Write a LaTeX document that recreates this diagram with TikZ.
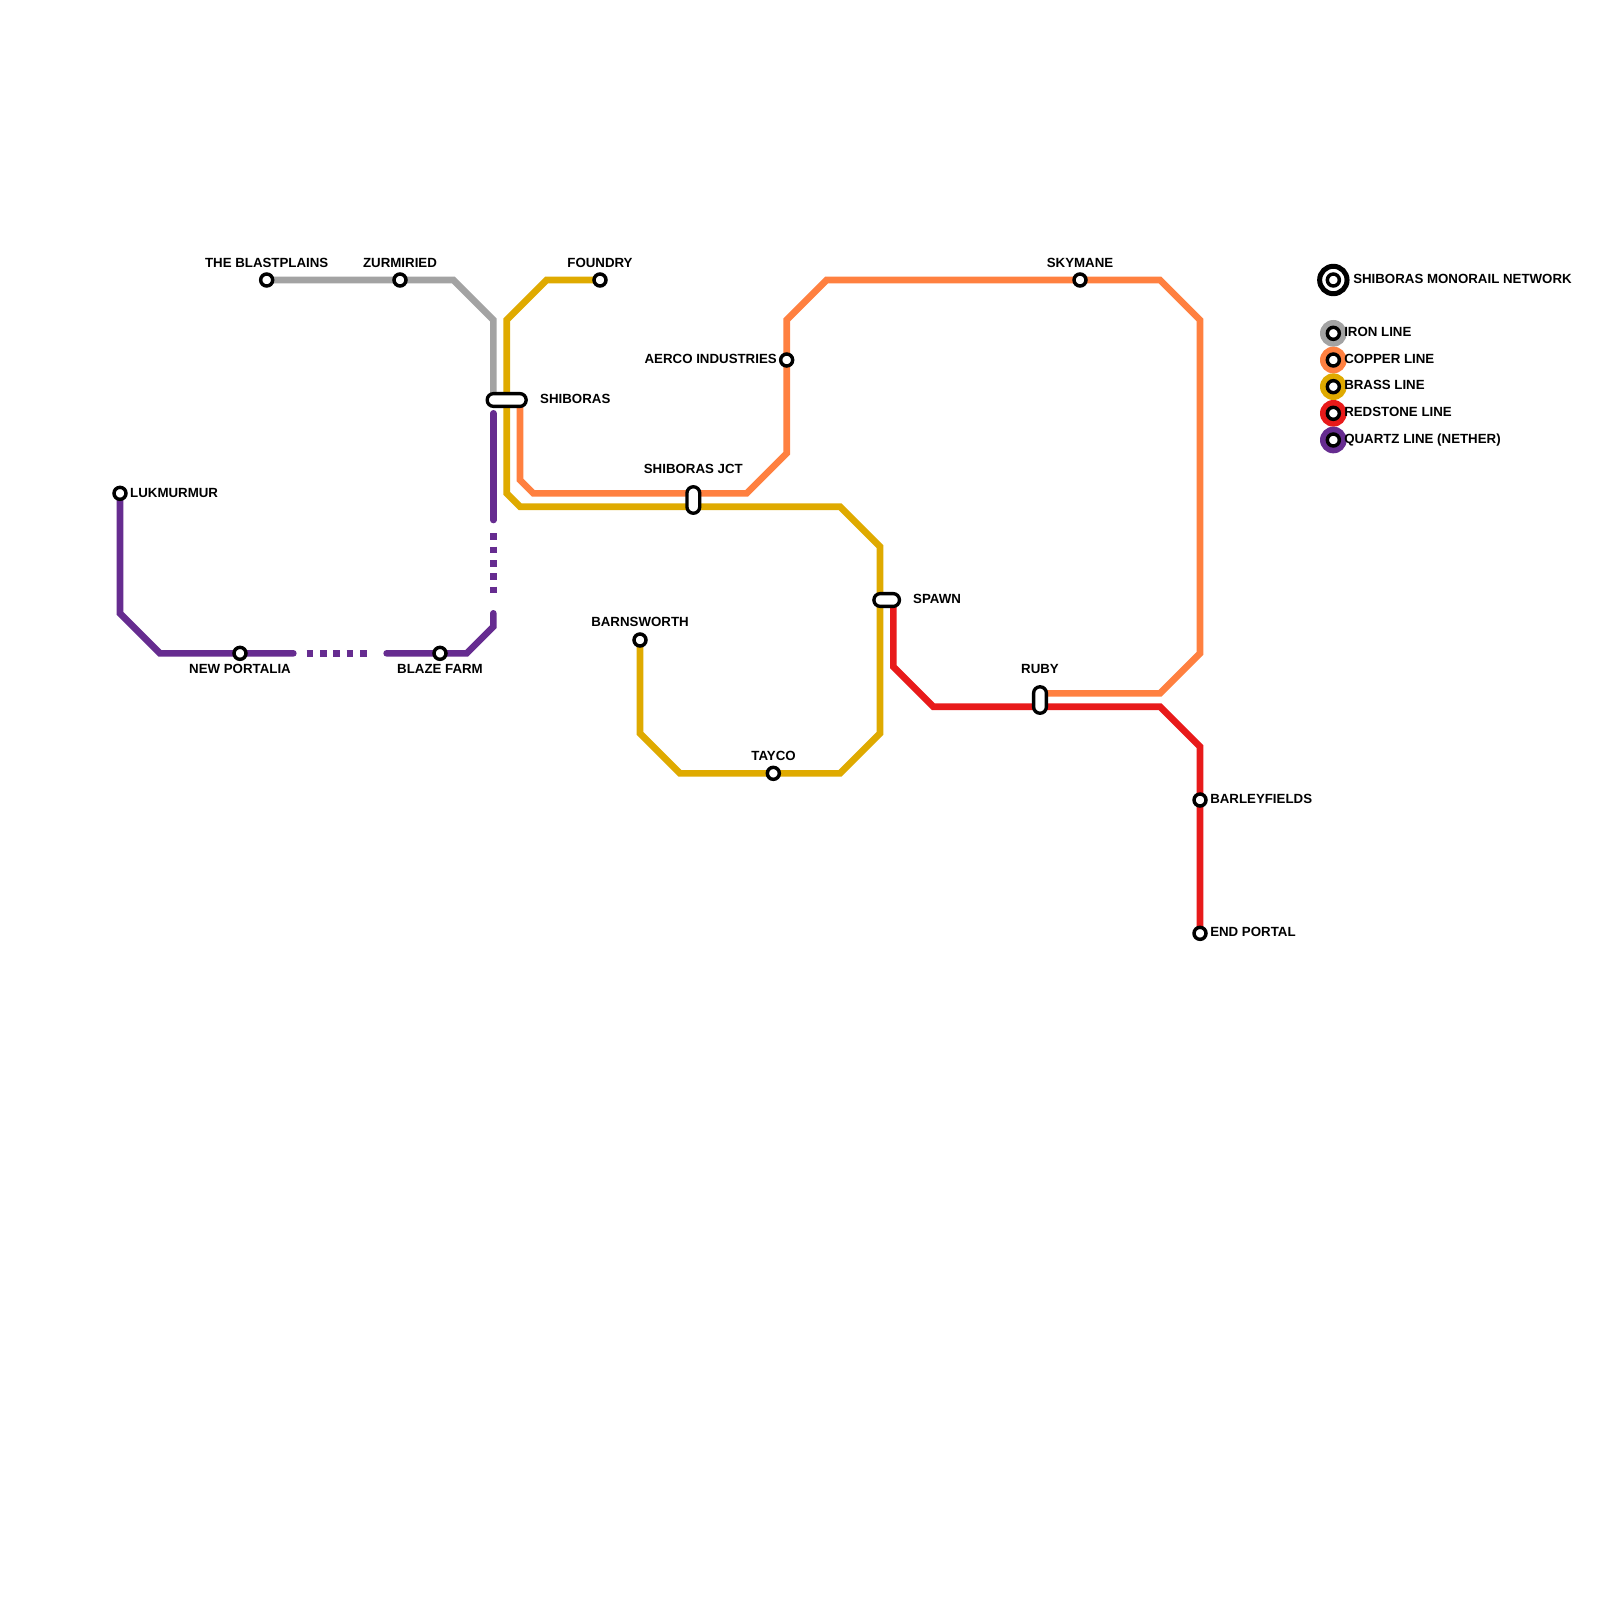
\documentclass[tikz,border=0pt]{standalone}
\usepackage{fontspec}
\setmainfont{Liberation Sans}
\definecolor{ironc}{HTML}{A3A3A3}
\definecolor{copperc}{HTML}{FF8040}
\definecolor{brassc}{HTML}{DFAA00}
\definecolor{redc}{HTML}{E81A1A}
\definecolor{quartzc}{HTML}{662C90}
\tikzset{
  line/.style={line width=5.69pt,line join=miter,line cap=butt},
  rline/.style={line, line cap=round},
  dots/.style={line, dash pattern=on 5.69pt off 5.69pt},
  stn/.style={circle,draw=black,fill=white,line width=2.95pt,minimum size=10.24pt,inner sep=0pt},
  hub/.style={rectangle,draw=black,fill=white,line width=2.85pt,inner sep=0pt,rounded corners=5.4pt},
  lab/.style={font=\fontsize{11.34pt}{13pt}\selectfont\bfseries,inner sep=0pt},
  lc/.style={lab,anchor=base},
  ll/.style={lab,anchor=base west},
  lr/.style={lab,anchor=base east},
  disc/.style={circle,inner sep=0pt,minimum size=22.76pt},
}
\begin{document}
\begin{tikzpicture}[x=0.03cm,y=-0.03cm]
\path[use as bounding box,fill=white] (0,0) rectangle (1600,1600);
% anchors of the stations
\coordinate (blastC) at (266.67,280);
\coordinate (zurC) at (400,280);
\coordinate (foundC) at (600,280);
\coordinate (skyC) at (1080,280);
\coordinate (aercoC) at (786.67,360);
\coordinate (lukC) at (120,493.33);
\coordinate (portC) at (240,653.33);
\coordinate (blazeC) at (440,653.33);
\coordinate (barnC) at (640,640);
\coordinate (taycoC) at (773.33,773.33);
\coordinate (barlC) at (1200,800);
\coordinate (endC) at (1200,933.33);
\coordinate (ironS) at (493.33,400);
\coordinate (brassS) at (506.67,400);
\coordinate (copperS) at (520,400);
\coordinate (redS) at (893.33,600);
\coordinate (copperR) at (1040,693.33);
% lines
\draw[line,ironc] (blastC) -- (zurC) -- (453.33,280) -- (493.33,320) -- (ironS);
\draw[line,brassc] (foundC) -- (546.67,280) -- (506.67,320) -- (brassS) -- (506.67,493.33) -- (520,506.67) -- (840,506.67) -- (880,546.67) -- (880,733.33) -- (840,773.33) -- (taycoC) -- (680,773.33) -- (640,733.33) -- (barnC);
\draw[line,copperc] (copperS) -- (520,480) -- (533.33,493.33) -- (746.67,493.33) -- (786.67,453.33) -- (aercoC) -- (786.67,320) -- (826.67,280) -- (skyC) -- (1160,280) -- (1200,320) -- (1200,653.33) -- (1160,693.33) -- (copperR);
\draw[line,redc] (redS) -- (893.33,666.67) -- (933.33,706.67) -- (1160,706.67) -- (1200,746.67) -- (barlC) -- (endC);
\coordinate (q1) at (493.33,413.33);
\coordinate (q2) at (493.33,520);
\coordinate (q3) at (493.33,533.33);
\coordinate (q4) at (493.33,593.33);
\coordinate (q5) at (493.33,613.33);
\coordinate (q6) at (386.67,653.33);
\coordinate (q7) at (366.67,653.33);
\coordinate (q8) at (306.67,653.33);
\coordinate (q9) at (293.33,653.33);
\draw[rline,quartzc] (q1) -- (q2);
\draw[dots,quartzc] (q3) -- (q4);
\draw[rline,quartzc] (q5) -- (493.33,626.67) -- (466.67,653.33) -- (blazeC) -- (q6);
\draw[dots,quartzc] (q8) -- (q7);
\draw[rline,quartzc] (lukC) -- (120,613.33) -- (160,653.33) -- (portC) -- (q9);
% stations
\node[stn] (blast) at (blastC) {};
\node[stn] (zur) at (zurC) {};
\node[stn] (found) at (foundC) {};
\node[stn] (sky) at (skyC) {};
\node[stn] (aerco) at (aercoC) {};
\node[stn] (luk) at (lukC) {};
\node[stn] (port) at (portC) {};
\node[stn] (blaze) at (blazeC) {};
\node[stn] (barn) at (barnC) {};
\node[stn] (tayco) at (taycoC) {};
\node[stn] (barl) at (barlC) {};
\node[stn] (endp) at (endC) {};
\node[hub,minimum width=33.3pt,minimum height=10.9pt] (shib) at (506.67,400) {};
\node[hub,minimum width=10.9pt,minimum height=22.6pt] (jct) at (693.33,500) {};
\node[hub,minimum width=21.8pt,minimum height=10.9pt] (spawn) at (886.67,600) {};
\node[hub,minimum width=10.9pt,minimum height=22.6pt] (ruby) at (1040,700) {};
% labels
\node[lc] (tblast) at (266.67,267) {THE BLASTPLAINS};
\node[lc] (tzur) at (400,267) {ZURMIRIED};
\node[lc] (tfound) at (600,267) {FOUNDRY};
\node[lc] (tsky) at (1080,267) {SKYMANE};
\node[lr] (taerco) at (777,363.5) {AERCO INDUSTRIES};
\node[ll] (tshib) at (540,403.5) {SHIBORAS};
\node[lc] (tjct) at (693.33,473.5) {SHIBORAS JCT};
\node[ll] (tspawn) at (913,603.5) {SPAWN};
\node[lc] (truby) at (1040,673.5) {RUBY};
\node[lc] (tbarn) at (640,626.5) {BARNSWORTH};
\node[lc] (ttayco) at (773.6,760) {TAYCO};
\node[ll] (tluk) at (130,497) {LUKMURMUR};
\node[lc] (tport) at (240,673) {NEW PORTALIA};
\node[lc] (tblaze) at (440,673) {BLAZE FARM};
\node[ll] (tbarl) at (1210,803) {BARLEYFIELDS};
\node[ll] (tend) at (1210,936) {END PORTAL};
% legend
\node[circle,draw=black,line width=4.27pt,fill=white,minimum size=23.4pt,inner sep=0pt] (lgo) at (1333.33,280) {};
\node[stn] (lgi) at (1333.33,280) {};
\node[ll] (tnet) at (1353,283.5) {SHIBORAS MONORAIL NETWORK};
\node[disc,fill=ironc] (d1) at (1333.33,333.33) {};
\node[disc,fill=copperc] (d2) at (1333.33,360) {};
\node[disc,fill=brassc] (d3) at (1333.33,386.67) {};
\node[disc,fill=redc] (d4) at (1333.33,413.33) {};
\node[disc,fill=quartzc] (d5) at (1333.33,440) {};
\node[stn] (s1) at (d1) {};
\node[stn] (s2) at (d2) {};
\node[stn] (s3) at (d3) {};
\node[stn] (s4) at (d4) {};
\node[stn] (s5) at (d5) {};
\node[ll] (t1) at (1344,336.5) {IRON LINE};
\node[ll] (t2) at (1344,363) {COPPER LINE};
\node[ll] (t3) at (1344,389.5) {BRASS LINE};
\node[ll] (t4) at (1344,416) {REDSTONE LINE};
\node[ll] (t5) at (1344,443) {QUARTZ LINE (NETHER)};
\end{tikzpicture}
\end{document}
